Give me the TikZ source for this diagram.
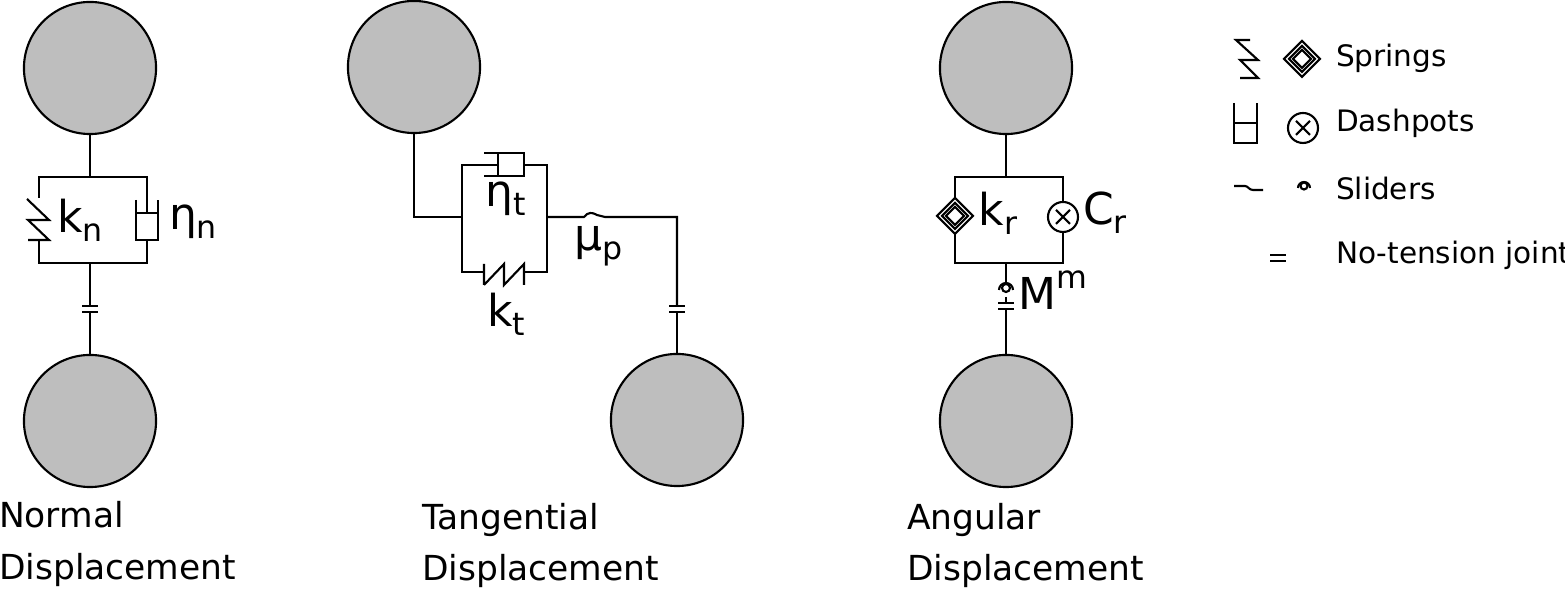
\documentclass[tikz,border=0pt]{standalone}
\usepackage{fontspec}
\setmainfont{DejaVu Sans}
\newcommand{\lbl}[2]{{\fontsize{12.5}{14}\selectfont #1}\raisebox{-0.45ex}{\fontsize{9}{10}\selectfont #2}}
\newcommand{\lblsup}[2]{{\fontsize{12.5}{14}\selectfont #1}\raisebox{1.1ex}{\fontsize{9}{10}\selectfont #2}}
\begin{document}
\begin{tikzpicture}[x=0.01cm,y=-0.01cm,line width=0.6pt,
  ball/.style={circle,draw,fill={rgb,255:red,190;green,190;blue,190},minimum size=1.32cm,inner sep=0pt},
  captxt/.style={font=\fontsize{9.8}{12}\selectfont,anchor=base west,inner sep=0pt},
  leg/.style={font=\fontsize{8.4}{10}\selectfont,anchor=west,inner sep=0pt},
  sym/.style={inner sep=0pt}]
\useasboundingbox (0,0) rectangle (1565,589);
% ---------- Normal ----------
\node[ball] (n1) at (90,68) {};
\node[ball] (n2) at (90,421) {};
\draw (n1.south) -- (90,177);
\draw (39,198) -- (39,177) -- (147,177) -- (147,213);
\draw (27,199) -- (49,220) -- (28,220) -- (49,240) -- (28,240);
\draw (39,240) -- (39,263) -- (147,263) -- (147,240);
\draw (136,200) -- (136,240) -- (158,240) -- (158,200);
\draw (136,213) -- (158,213);
\draw (90,263) -- (90,306);
\draw (82,306) -- (98,306) (82,312) -- (98,312);
\draw (90,312) -- (n2.north);
\node[sym] (kn) at (80,220) {\lbl{k}{n}};
\node[sym] (en) at (193,222) {\lbl{η}{n}};
\node[captxt] (c1a) at (-2,528) {Normal};
\node[captxt] (c1b) at (-2,580) {Displacement};
% ---------- Tangential ----------
\node[ball] (t1) at (414,67) {};
\node[ball] (t2) at (677,420) {};
\draw (t1.south) -- (414,217) -- (462,217);
\draw (498,165) -- (462,165) -- (462,272) -- (484,272);
\draw (524,165) -- (547,165) -- (547,272) -- (524,272);
\draw (484,153) -- (524,153) -- (524,176) -- (484,176);
\draw (498,153) -- (498,176);
\draw (484,285) -- (484,264) (484,285) -- (504,264) -- (504,285) -- (524,264) -- (524,285);
\draw (547,217) -- (584,217) .. controls (588,212) and (592,212) .. (597,215) -- (605,217) -- (677,217) -- (677,306);
\draw (669,306) -- (685,306) (669,312) -- (685,312);
\draw (677,312) -- (t2.north);
\node[sym] (et) at (506,199) {\lbl{η}{t}};
\node[sym] (kt) at (506,314) {\lbl{k}{t}};
\node[sym] (mp) at (599,246) {\lbl{μ}{p}};
\node[captxt] (c2a) at (421,530) {Tangential};
\node[captxt] (c2b) at (421,581) {Displacement};
% ---------- Angular ----------
\node[ball] (a1) at (1006,68) {};
\node[ball] (a2) at (1006,421) {};
\draw (a1.south) -- (1006,177);
\draw (955,198) -- (955,177) -- (1063,177) -- (1063,202);
\draw (1063,232) -- (1063,263) -- (955,263) -- (955,234);
\draw (955,198) -- (973,216) -- (955,234) -- (937,216) -- cycle;
\draw (955,203) -- (968,216) -- (955,229) -- (942,216) -- cycle;
\draw (955,207) -- (964,216) -- (955,225) -- (946,216) -- cycle;
\draw (1063,217) circle (15);
\draw (1056,210) -- (1070,224) (1056,224) -- (1070,210);
\draw (1006,263) -- (1006,284);
\draw (1006,288) circle (4);
\draw (999,290) arc (180:360:7);
\draw (1006,297) -- (1006,303);
\draw (998,303) -- (1014,303) (998,309) -- (1014,309);
\draw (1006,309) -- (a2.north);
\node[sym] (kr) at (998,213) {\lbl{k}{r}};
\node[sym] (cr) at (1105,213) {\lbl{C}{r}};
\node[sym] (mm) at (1053,290) {\lblsup{M}{m}};
\node[captxt] (c3a) at (906,530) {Angular};
\node[captxt] (c3b) at (906,581) {Displacement};
% ---------- Legend ----------
\draw (1250,40) -- (1236,40) -- (1258,60) -- (1240,60) -- (1258,78) -- (1240,78);
\draw (1302,41) -- (1320,59) -- (1302,77) -- (1284,59) -- cycle;
\draw (1302,46) -- (1315,59) -- (1302,72) -- (1289,59) -- cycle;
\draw (1302,50) -- (1311,59) -- (1302,68) -- (1293,59) -- cycle;
\draw (1234,103) -- (1234,143) -- (1257,143) -- (1257,103);
\draw (1234,123) -- (1257,123);
\draw (1303,128) circle (15);
\draw (1296,121) -- (1310,135) (1296,135) -- (1310,121);
\draw (1234,186) -- (1245,186) .. controls (1248,186) and (1249,190) .. (1253,190) -- (1263,190);
\draw (1304,186) circle (3.5);
\draw (1298,188) arc (180:360:6);
\draw (1270,255) -- (1286,255) (1270,261) -- (1286,261);
\node[leg] (l1) at (1335,58) {Springs};
\node[leg] (l2) at (1335,123) {Dashpots};
\node[leg] (l3) at (1335,189) {Sliders};
\node[leg] (l4) at (1335,255) {No-tension joint};
\end{tikzpicture}
\end{document}
